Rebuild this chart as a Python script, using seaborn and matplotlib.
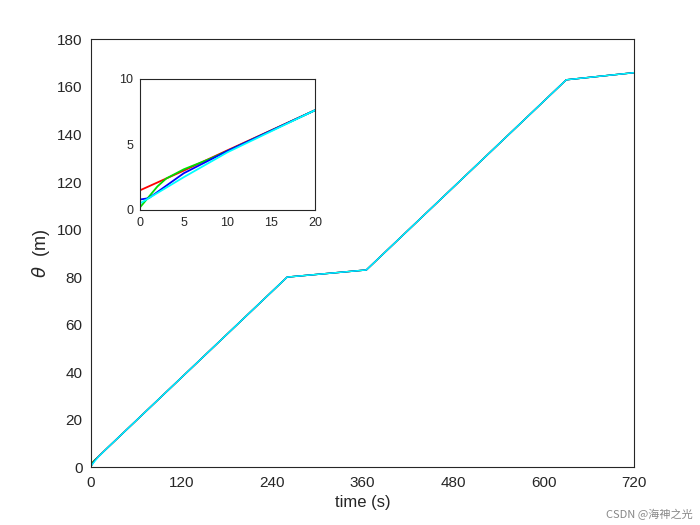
import matplotlib
matplotlib.use("Agg")
import matplotlib.pyplot as plt
import seaborn as sns
import pandas as pd

sns.set_style("white")
plt.rcParams['font.family'] = ['Liberation Sans', 'DejaVu Sans']

tail_t = [20, 260, 365, 630, 720]
tail_v = [7.6, 80, 83, 163, 166]
red_t = [0, 5, 10]; red_v = [1.5, 3.0, 4.55]
green_t = [0, 1, 2, 3, 5, 8, 10]; green_v = [0.2, 1.0, 1.8, 2.4, 3.1, 3.9, 4.5]
blue_t = [0, 1, 5, 10]; blue_v = [0.8, 0.9, 2.8, 4.5]
cyan_t = [0, 2, 5, 10, 15]; cyan_v = [0.5, 1.3, 2.5, 4.4, 6.0]
colors = ["red", "#00dd00", "blue", "cyan"]
series = [(red_t, red_v), (green_t, green_v), (blue_t, blue_v), (cyan_t, cyan_v)]

fig = plt.figure(figsize=(7, 5.25), dpi=100)
ax = fig.add_axes([0.13, 0.11, 0.776, 0.815])
ins = fig.add_axes([0.2, 0.6, 0.25, 0.25])
for (t, v), c in zip(series, colors):
    df = pd.DataFrame({"t": t + tail_t, "v": v + tail_v})
    sns.lineplot(data=df, x="t", y="v", color=c, lw=1.0, ax=ax, sort=False)
    sns.lineplot(data=df, x="t", y="v", color=c, lw=1.3, ax=ins, sort=False)

ax.set_xlim(0, 720); ax.set_ylim(0, 180)
ax.set_xticks(range(0, 721, 120)); ax.set_yticks(range(0, 181, 20))
ax.set_xlabel("time (s)", fontsize=12)
ax.set_ylabel(r"$\theta$  (m)", fontsize=13)
ax.tick_params(labelsize=11, direction="in", length=4, pad=6)
ins.set_xlim(0, 20); ins.set_ylim(0, 10)
ins.set_xticks([0, 5, 10, 15, 20]); ins.set_yticks([0, 5, 10])
ins.set_xlabel(""); ins.set_ylabel("")
ins.tick_params(labelsize=9, direction="in", length=3, pad=5)
for a in (ax, ins):
    for s in a.spines.values():
        s.set_color("#262626"); s.set_linewidth(0.8)
fig.text(0.99, 0.01, "CSDN @海神之光", ha="right", va="bottom", fontsize=8, color="#888888",
         family=["Noto Sans CJK SC", "DejaVu Sans"])
fig.savefig("out.png")
